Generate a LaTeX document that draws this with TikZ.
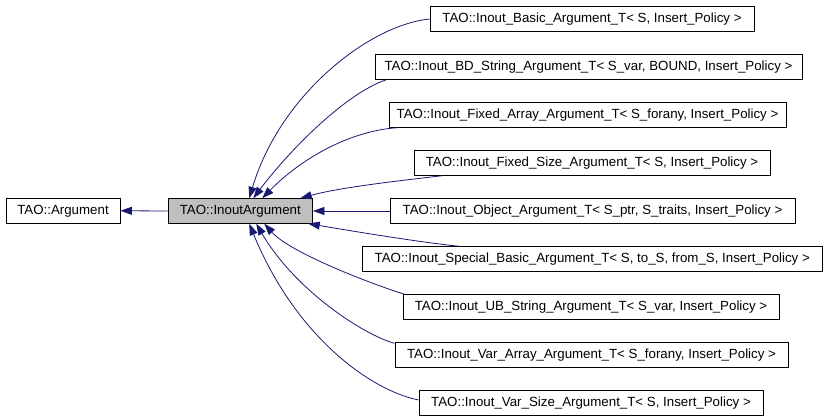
\documentclass[tikz,border=0pt]{standalone}
\usepackage{fontspec}
\setmainfont{Liberation Sans}
\usetikzlibrary{arrows.meta}
\definecolor{edgeblue}{HTML}{191970}
\definecolor{hlgray}{HTML}{BFBFBF}
\begin{document}
\begin{tikzpicture}[x=1pt,y=-1pt,
  cls/.style={draw=black, line width=0.9pt, fill=white, inner sep=0pt, minimum height=24.5pt,
    font=\fontsize{13.3}{15}\selectfont, text=black},
  cur/.style={cls, fill=hlgray},
  edge/.style={draw=edgeblue, line width=0.8pt, -{Triangle[length=11.5pt,width=8pt]}}]
\useasboundingbox (0,0) rectangle (827,419);
\node[cls, minimum width=114pt] (arg) at (63,210.75) {TAO::Argument};
\node[cur, minimum width=144.5pt] (ia) at (240.25,211) {TAO::InoutArgument};
\node[cls, minimum width=324pt] (b1) at (592,19) {TAO::Inout\_Basic\_Argument\_T< S, Insert\_Policy >};
\node[cls, minimum width=427pt] (b2) at (588.5,67) {TAO::Inout\_BD\_String\_Argument\_T< S\_var, BOUND, Insert\_Policy >};
\node[cls, minimum width=397pt] (b3) at (587.5,115) {TAO::Inout\_Fixed\_Array\_Argument\_T< S\_forany, Insert\_Policy >};
\node[cls, minimum width=356pt] (b4) at (592,163) {TAO::Inout\_Fixed\_Size\_Argument\_T< S, Insert\_Policy >};
\node[cls, minimum width=405pt] (b5) at (592.5,211) {TAO::Inout\_Object\_Argument\_T< S\_ptr, S\_traits, Insert\_Policy >};
\node[cls, minimum width=460.5pt] (b6) at (592.25,259) {TAO::Inout\_Special\_Basic\_Argument\_T< S, to\_S, from\_S, Insert\_Policy >};
\node[cls, minimum width=376pt] (b7) at (591,307) {TAO::Inout\_UB\_String\_Argument\_T< S\_var, Insert\_Policy >};
\node[cls, minimum width=393pt] (b8) at (591.5,355) {TAO::Inout\_Var\_Array\_Argument\_T< S\_forany, Insert\_Policy >};
\node[cls, minimum width=344pt] (b9) at (591,403) {TAO::Inout\_Var\_Size\_Argument\_T< S, Insert\_Policy >};

\draw[edge] (ia.west) -- (arg.east);
\draw[edge] (b1.west) .. controls +(-60,6) and +(31,-104) .. ([xshift=9pt]ia.north);
\draw[edge] ([xshift=12pt]b2.south west) .. controls +(-40,13) and +(37,-49) .. ([xshift=13pt]ia.north);
\draw[edge] ([xshift=9pt]b3.south west) .. controls +(-48,3) and +(38,-39) .. ([xshift=22pt]ia.north);
\draw[edge] ([xshift=29pt]b4.south west) .. controls +(-43,5) and +(40,-11) .. ([xshift=60pt]ia.north);
\draw[edge] (b5.west) -- (ia.east);
\draw[edge] ([xshift=98pt]b6.north west) .. controls +(-40,-4) and +(42,7) .. ([xshift=68pt]ia.south);
\draw[edge] ([xshift=2pt]b7.north west) .. controls +(-35,-11) and +(26,29) .. ([xshift=24pt]ia.south);
\draw[edge] ([yshift=-1pt]b8.north west) .. controls +(-30,-8) and +(39,67) .. ([xshift=16pt]ia.south);
\draw[edge] ([yshift=3pt]b9.west) .. controls +(-49,-10) and +(46,112) .. ([xshift=9pt]ia.south);
\end{tikzpicture}
\end{document}
